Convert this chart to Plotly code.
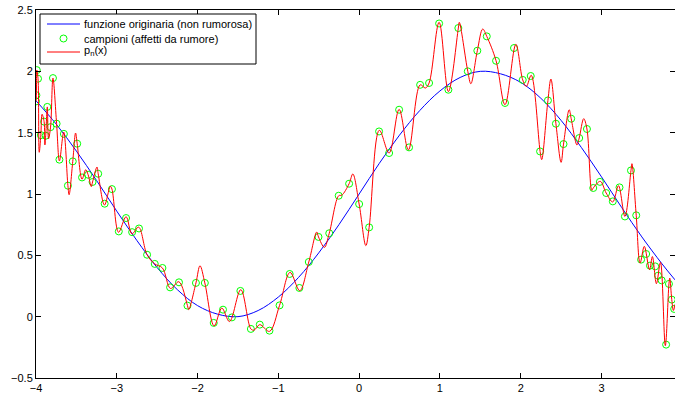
import plotly.graph_objects as go

# Original (noise-free) function
blue_x = [-4.0, -3.75, -3.5, -3.25, -3.0, -2.75, -2.5, -2.25, -2.0, -1.75, -1.5, -1.25,
          -1.0, -0.75, -0.5, -0.25, 0.0, 0.25, 0.5, 0.75, 1.0, 1.25, 1.5, 1.75, 2.0,
          2.25, 2.5, 2.75, 3.0, 3.25, 3.5, 3.75, 3.91]
blue_y = [1.76, 1.57, 1.35, 1.11, 0.86, 0.62, 0.40, 0.22, 0.09, 0.02, 0.00, 0.05,
          0.16, 0.32, 0.52, 0.75, 1.00, 1.25, 1.48, 1.68, 1.84, 1.95, 2.00, 1.98, 1.91,
          1.78, 1.60, 1.38, 1.14, 0.89, 0.65, 0.43, 0.30]

# Noisy samples (green circles)
sample_x = [-4.000, -3.995, -3.990, -3.975, -3.940, -3.900, -3.880, -3.860, -3.820, -3.790,
            -3.745, -3.710, -3.655, -3.605, -3.545, -3.490, -3.430, -3.355, -3.300, -3.230,
            -3.150, -3.060, -2.975, -2.885, -2.810, -2.725, -2.625, -2.530, -2.435, -2.340,
            -2.230, -2.125, -2.020, -1.910, -1.800, -1.685, -1.575, -1.470, -1.340, -1.230,
            -1.110, -0.985, -0.860, -0.740, -0.623, -0.503, -0.370, -0.253, -0.124, 0.000,
            0.124, 0.247, 0.371, 0.495, 0.618, 0.755, 0.866, 0.990, 1.105, 1.228,
            1.345, 1.463, 1.580, 1.695, 1.806, 1.917, 2.025, 2.124, 2.240, 2.337,
            2.436, 2.530, 2.625, 2.724, 2.820, 2.898, 2.980, 3.058, 3.140, 3.223,
            3.290, 3.365, 3.430, 3.490, 3.553, 3.600, 3.665, 3.700, 3.745, 3.800,
            3.835, 3.870, 3.900]
sample_y = [1.755, 1.805, 2.010, 1.940, 1.480, 1.590, 1.475, 1.710, 1.545, 1.945,
            1.573, 1.280, 1.490, 1.068, 1.266, 1.410, 1.135, 1.157, 1.098, 1.165,
            0.921, 1.040, 0.695, 0.804, 0.689, 0.719, 0.505, 0.430, 0.397, 0.239,
            0.280, 0.090, 0.275, 0.275, -0.051, 0.057, -0.006, 0.210, -0.100, -0.065,
            -0.114, 0.092, 0.348, 0.234, 0.446, 0.650, 0.680, 0.986, 1.084, 0.918,
            0.728, 1.510, 1.334, 1.687, 1.380, 1.890, 1.905, 2.390, 1.850, 2.353,
            2.000, 2.168, 2.285, 2.086, 1.742, 2.190, 1.930, 1.962, 1.347, 1.763,
            1.573, 1.407, 1.614, 1.456, 1.530, 1.049, 1.099, 1.008, 0.940, 1.054,
            0.817, 1.192, 0.826, 0.465, 0.511, 0.416, 0.410, 0.334, 0.296, -0.228,
            0.267, 0.139, 0.063]

# Interpolating polynomial p_n(x) (samples + extrema)
red_x = [-4.000, -3.995, -3.990, -3.975, -3.960, -3.940, -3.925, -3.900, -3.890, -3.880,
         -3.860, -3.845, -3.820, -3.790, -3.745, -3.710, -3.657, -3.605, -3.590, -3.545,
         -3.510, -3.490, -3.430, -3.385, -3.355, -3.315, -3.300, -3.245, -3.230, -3.152,
         -3.080, -3.060, -2.978, -2.885, -2.812, -2.730, -2.625, -2.530, -2.435, -2.335,
         -2.232, -2.125, -2.110, -2.020, -1.970, -1.910, -1.795, -1.700, -1.605, -1.465,
         -1.340, -1.300, -1.230, -1.110, -0.985, -0.855, -0.735, -0.623, -0.525, -0.503,
         -0.430, -0.370, -0.253, -0.215, -0.124, -0.078, 0.000, 0.083, 0.124, 0.250,
         0.371, 0.495, 0.610, 0.755, 0.820, 0.866, 0.990, 1.105, 1.228, 1.240,
         1.345, 1.383, 1.463, 1.530, 1.580, 1.695, 1.806, 1.940, 2.025, 2.070,
         2.130, 2.240, 2.260, 2.337, 2.374, 2.436, 2.500, 2.530, 2.600, 2.625,
         2.696, 2.724, 2.780, 2.820, 2.880, 2.898, 2.985, 3.058, 3.140, 3.210,
         3.290, 3.365, 3.377, 3.430, 3.478, 3.530, 3.595, 3.630, 3.680, 3.730,
         3.790, 3.835, 3.845, 3.870, 3.890, 3.910]
red_y = [1.755, 1.805, 2.010, 1.940, 1.340, 1.480, 1.650, 1.590, 1.400, 1.475,
         1.710, 1.450, 1.545, 1.945, 1.573, 1.270, 1.505, 1.068, 0.994, 1.266,
         1.497, 1.410, 1.120, 1.198, 1.157, 1.060, 1.098, 1.220, 1.165, 0.910,
         1.062, 1.040, 0.688, 0.815, 0.675, 0.730, 0.505, 0.430, 0.397, 0.230,
         0.285, 0.090, 0.057, 0.275, 0.415, 0.275, -0.075, 0.070, -0.040, 0.220,
         -0.100, -0.110, -0.065, -0.120, 0.092, 0.361, 0.212, 0.446, 0.690, 0.650,
         0.565, 0.680, 0.986, 0.990, 1.084, 1.163, 0.918, 0.579, 0.728, 1.520,
         1.334, 1.690, 1.360, 1.890, 1.864, 1.905, 2.400, 1.835, 2.353, 2.400,
         2.000, 1.899, 2.168, 2.345, 2.285, 2.086, 1.728, 2.220, 1.930, 1.877,
         1.968, 1.347, 1.280, 1.763, 1.937, 1.573, 1.258, 1.407, 1.687, 1.614,
         1.400, 1.456, 1.614, 1.530, 1.030, 1.049, 1.103, 1.008, 0.935, 1.068,
         0.817, 1.192, 1.247, 0.826, 0.437, 0.573, 0.383, 0.490, 0.269, 0.443,
         -0.236, 0.267, 0.315, 0.139, 0.050, 0.100]

x_ticks = [-4, -3, -2, -1, 0, 1, 2, 3]
y_ticks = [-0.5, 0, 0.5, 1, 1.5, 2, 2.5]

legend_labels = ["funzione originaria (non rumorosa)",
                 "campioni (affetti da rumore)",
                 "p<sub>n</sub>(x)"]

BLUE, GREEN, RED = "#0000ff", "#00ff00", "#ff0000"
FONT = "Liberation Sans"
FS = 11

fig = go.Figure()
fig.add_trace(go.Scatter(
    x=blue_x, y=blue_y, mode="lines",
    line=dict(color=BLUE, width=1, shape="spline"),
    name=legend_labels[0], showlegend=False))
fig.add_trace(go.Scatter(
    x=sample_x, y=sample_y, mode="markers",
    marker=dict(symbol="circle-open", size=7, color=GREEN, line=dict(width=1, color=GREEN)),
    name=legend_labels[1], showlegend=False))
fig.add_trace(go.Scatter(
    x=red_x, y=red_y, mode="lines",
    line=dict(color=RED, width=1, shape="spline", smoothing=1.0),
    name=legend_labels[2], showlegend=False))

# --- compact MATLAB-style legend box (plot area: x 36..675 px, y 10..378 px) ---
W, H, L, T = 639.0, 368.0, 36.0, 10.0
def px(xp):
    return (xp - L) / W
def py(yp):
    return 1 - (yp - T) / H

shapes = [
    dict(type="rect", xref="paper", yref="paper",
         x0=px(40), x1=px(256), y0=py(64), y1=py(14),
         line=dict(color="black", width=1), fillcolor="white", layer="above"),
    dict(type="line", xref="paper", yref="paper",
         x0=px(47), x1=px(80), y0=py(24), y1=py(24),
         line=dict(color=BLUE, width=1), layer="above"),
    dict(type="circle", xref="paper", yref="paper",
         xsizemode="pixel", ysizemode="pixel",
         xanchor=px(63.5), yanchor=py(38.5), x0=-3.5, x1=3.5, y0=-3.5, y1=3.5,
         line=dict(color=GREEN, width=1), layer="above"),
    dict(type="line", xref="paper", yref="paper",
         x0=px(47), x1=px(80), y0=py(52), y1=py(52),
         line=dict(color=RED, width=1), layer="above"),
]
row_y = [24, 38.5, 51]
annotations = [
    dict(text=lab, xref="paper", yref="paper", x=px(82), y=py(ry),
         xanchor="left", yanchor="middle", showarrow=False,
         font=dict(family=FONT, size=FS, color="black"))
    for lab, ry in zip(legend_labels, row_y)
]

axis_common = dict(
    showline=True, linecolor="black", linewidth=1, mirror="ticks",
    ticks="inside", ticklen=5, tickwidth=1, tickcolor="black",
    showgrid=False, zeroline=False,
    tickfont=dict(family=FONT, size=FS, color="black"),
)

fig.update_layout(
    width=675, height=396, autosize=False,
    margin=dict(l=36, r=0, t=10, b=18),
    paper_bgcolor="white", plot_bgcolor="white",
    font=dict(family=FONT, size=FS, color="black"),
    showlegend=False,
    shapes=shapes,
    annotations=annotations,
    xaxis=dict(range=[-4, 3.91], tickvals=x_ticks, **axis_common),
    yaxis=dict(range=[-0.5, 2.5], tickvals=y_ticks, **axis_common),
)

fig.write_html("out.html")
